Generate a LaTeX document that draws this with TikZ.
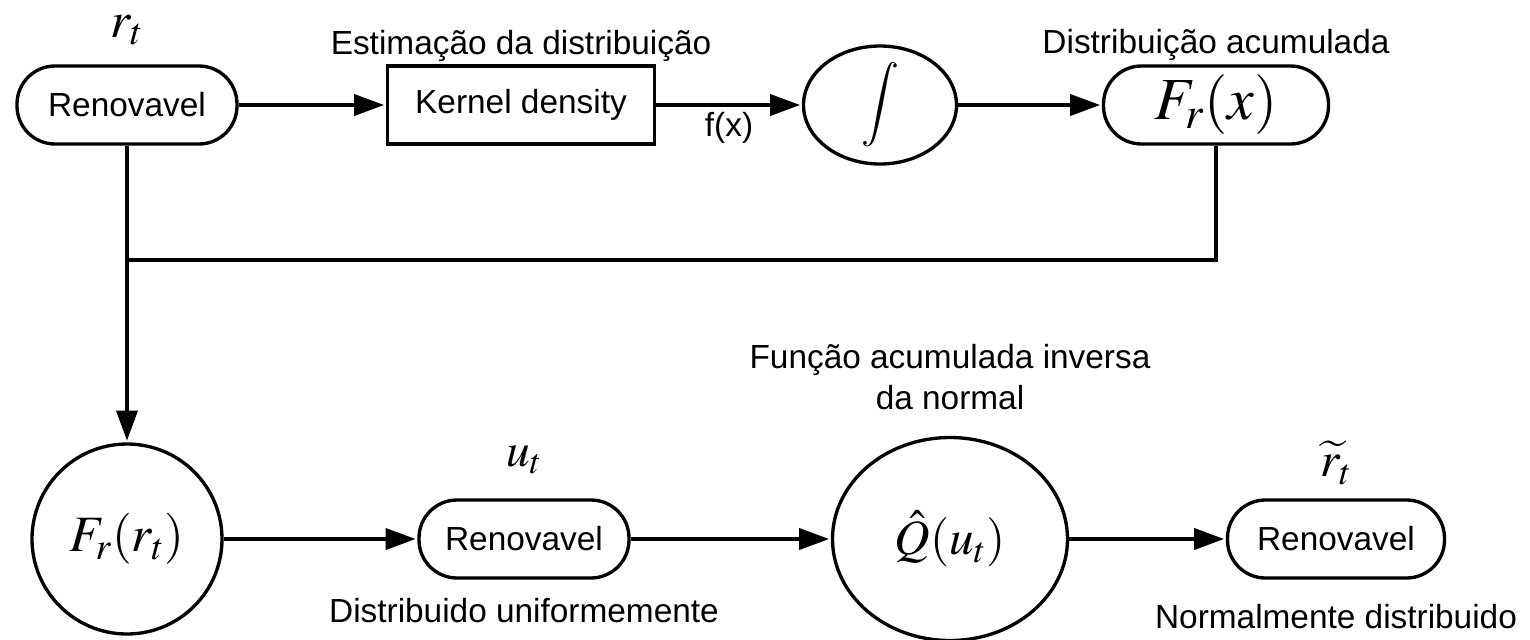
\documentclass[tikz,border=0pt]{standalone}
\usepackage{mathptmx}
\usepackage[no-math]{fontspec}
\newfontfamily\arialfont{Liberation Sans}
\usetikzlibrary{arrows.meta,shapes.geometric}

\begin{document}
\begin{tikzpicture}[>={Triangle[length=17pt,width=12pt]},shorten >=1pt,line width=1.9pt,
  every node/.style={font=\arialfont\fontsize{19}{23}\selectfont},
  renov/.style={draw,rounded corners=0.76cm,minimum width=4.4cm,minimum height=1.56cm,inner sep=0pt},
  kbox/.style={draw,minimum width=5.34cm,minimum height=1.56cm,inner sep=0pt},
  oval/.style={draw,ellipse,inner sep=0pt},
  caption/.style={font=\arialfont\fontsize{19}{23}\selectfont,align=center},
  mathsz/.style={font=\fontsize{#1}{#1}\selectfont}]
\useasboundingbox (0,0) rectangle (30.6,-12.78);

% upper row
\node[renov]                                     (rn)  at (2.54,-2.1) {Renovavel};
\node[kbox,node distance=7.88cm]                 (kd)  [right of=rn]  {Kernel density};
\node[oval,mathsz=24,minimum width=3.06cm,minimum height=2.36cm,text height=0.62cm,text depth=0.2cm,node distance=7.18cm]
                                                 (ig)  [right of=kd]  {$\displaystyle\int$};
\node[renov,mathsz=34,minimum width=4.5cm,node distance=6.72cm]
                                                 (frx) [right of=ig]  {$F_r(x)$};

% lower row
\node[draw,circle,mathsz=29,minimum size=3.8cm,inner sep=0pt,node distance=8.68cm]
                                                 (frt) [below of=rn]  {$F_r(r_t)$};
\node[renov,minimum width=4.2cm,node distance=7.94cm]
                                                 (un)  [right of=frt] {Renovavel};
\node[oval,mathsz=28,minimum width=4.7cm,minimum height=4.06cm,node distance=8.52cm]
                                                 (qu)  [right of=un]  {$\hat{Q}(u_t)$};
\node[renov,minimum width=4.34cm,node distance=7.72cm]
                                                 (rtl) [right of=qu]  {Renovavel};

% labels
\node[mathsz=29,node distance=1.5cm]  (lrt)  [above of=rn]  {$r_t$};
\node[caption,node distance=1.18cm]   (lest) [above of=kd]  {Estimação da distribuição};
\node[caption,node distance=1.2cm]    (lacc) [above of=frx] {Distribuição acumulada};
\node[mathsz=27,node distance=1.58cm] (lut)  [above of=un]  {$u_t$};
\node[caption,node distance=1.44cm]   (luni) [below of=un]  {Distribuido uniformemente};
\node[caption,node distance=3.24cm]   (linv) [above of=qu]  {Função acumulada inversa\\da normal};
\node[mathsz=28,node distance=1.52cm] (lrtl) [above of=rtl] {$\widetilde{r}_t$};
\node[caption,node distance=1.56cm]   (lnor) [below of=rtl] {Normalmente distribuido};

\coordinate (jn) at (rn |- 0,-5.2);

\path[->] (rn)  edge (kd);
\path[->] (kd)  edge node[below] {f(x)} (ig);
\path[->] (ig)  edge (frx);
\draw[shorten >=0pt] (frx) |- (jn);
\path[->] (rn)  edge (frt);
\path[->] (frt) edge (un);
\path[->] (un)  edge (qu);
\path[->] (qu)  edge (rtl);
\end{tikzpicture}
\end{document}
